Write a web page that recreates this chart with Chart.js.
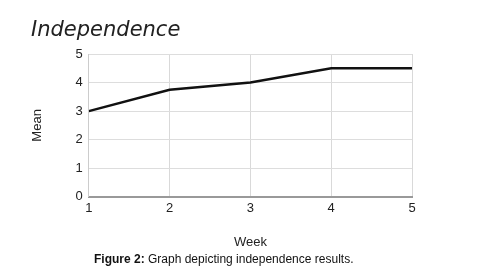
<!DOCTYPE html>
<html>
<head>
<meta charset="utf-8">
<script src="https://cdn.jsdelivr.net/npm/chart.js@4"></script>
<style>
  body { margin: 0; background: #fff; }
  #wrap { position: relative; width: 482px; height: 280px; }
  #title { position: absolute; left: 31px; top: 17px; font: italic 21px "DejaVu Sans"; color: #222; }
  #caption { position: absolute; left: 94px; top: 252px; font: 12px "Liberation Sans", Arial; color: #111; white-space: nowrap; }
  canvas { position: absolute; left: 0; top: 0; }
</style>
</head>
<body>
<div id="wrap">
  <canvas id="chart" width="482" height="280"></canvas>
  <div id="title">Independence</div>
  <div id="caption"><b>Figure 2:</b> Graph depicting independence results.</div>
</div>
<script>
var weeks = [1, 2, 3, 4, 5];
var means = [3, 3.75, 4, 4.5, 4.5];
var yTicks = [0, 1, 2, 3, 4, 5];

var ctx = document.getElementById('chart').getContext('2d');
var myChart = new Chart(ctx, {
    type: 'line',
    data: {
        datasets: [{
            label: 'Mean',
            data: weeks.map(function (w, i) { return { x: w, y: means[i] }; }),
            borderColor: '#111',
            borderWidth: 2.5,
            pointRadius: 0,
            tension: 0,
            fill: false
        }]
    },
    options: {
        responsive: false,
        animation: false,
        layout: { padding: { left: 26, right: 70, top: 54, bottom: 26 } },
        plugins: {
            legend: { display: false },
            tooltip: { enabled: false }
        },
        scales: {
            x: {
                type: 'linear',
                min: 1,
                max: 5,
                ticks: { stepSize: 1, color: '#222', font: { family: 'Liberation Sans', size: 13 }, padding: 4 },
                grid: { color: '#d9d9d9', lineWidth: 1, drawTicks: false },
                border: { color: '#999', width: 2 },
                title: { display: true, text: 'Week', color: '#222', font: { family: 'Liberation Sans', size: 13 }, padding: { top: 14 } }
            },
            y: {
                min: 0,
                max: 5,
                afterBuildTicks: function (axis) { axis.ticks = yTicks.map(function (v) { return { value: v }; }); },
                ticks: { color: '#222', font: { family: 'Liberation Sans', size: 13 }, padding: 6 },
                grid: { color: '#ddd', lineWidth: 1, drawTicks: false },
                border: { color: '#ccc', width: 1 },
                title: { display: true, text: 'Mean', color: '#222', font: { family: 'Liberation Sans', size: 13 }, padding: { bottom: 24 } }
            }
        }
    }
});
</script>
</body>
</html>
